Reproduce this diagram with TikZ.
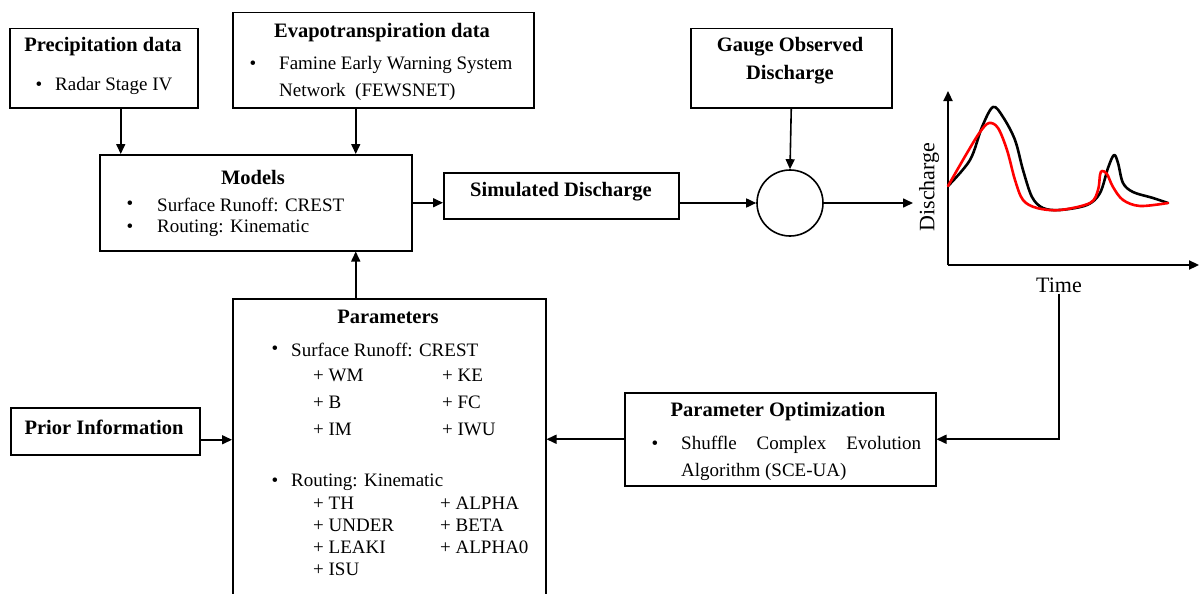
\documentclass[tikz,border=0pt]{standalone}
\usepackage{fontspec}
\setmainfont{Liberation Serif}
\usetikzlibrary{arrows.meta}
\begin{document}
\begin{tikzpicture}[x=1pt,y=-1pt,
  box/.style={draw, line width=1.5pt, inner sep=0pt, anchor=north west},
  arr/.style={line width=1.6pt, -{Triangle[length=10pt,width=9pt]}},
  txt/.style={inner sep=0pt, font=\fontsize{19}{23}\selectfont},
  lft/.style={txt, anchor=west},
  hd/.style={txt, font=\fontsize{20.5}{24}\selectfont\bfseries},
  axlbl/.style={inner sep=0pt, font=\fontsize{22}{26}\selectfont},
  curve/.style={line width=2.6pt, line join=round, line cap=round}
]
\useasboundingbox (0,0) rectangle (1200,594);
\clip (0,0) rectangle (1200,594);

% ---------- boxes ----------
\node[box, minimum width=188pt, minimum height=79pt] (precip) at (9,28) {};
\node[box, minimum width=301pt, minimum height=95pt] (evapo) at (232,12) {};
\node[box, minimum width=312pt, minimum height=96pt] (models) at (99,154) {};
\node[box, minimum width=235pt, minimum height=46pt] (sim) at (443,172) {};
\node[box, minimum width=201pt, minimum height=79pt] (gauge) at (690,28) {};
\node[draw, line width=1.6pt, circle, minimum size=66pt, inner sep=0pt] (circ) at (790,203) {};
\node[box, minimum width=313pt, minimum height=320pt] (params) at (232,298) {};
\node[box, minimum width=189pt, minimum height=47pt] (prior) at (10,407) {};
\node[box, minimum width=311pt, minimum height=93pt] (opt) at (624,392) {};

% ---------- precipitation ----------
\node[hd] (precipT) at (103,47) {Precipitation data};
\node[txt] (precipB) at (39,86) {•};
\node[lft] (precipL) at (55,86) {Radar Stage IV};

% ---------- evapotranspiration ----------
\node[hd] (evapoT) at (382,33) {Evapotranspiration data};
\node[txt] (evapoB) at (253,65) {•};
\node[lft] (evapoL1) at (279,65) {Famine Early Warning System};
\node[lft] (evapoL2) at (279,92) {Network\ \ (FEWSNET)};

% ---------- models ----------
\node[hd] (modelsT) at (253,177) {Models};
\node[txt] (modelsB1) at (130,205) {•};
\node[lft] (modelsL1) at (157,205) {Surface Runoff: CREST};
\node[txt] (modelsB2) at (130,228) {•};
\node[lft] (modelsL2) at (157,228) {Routing: Kinematic};

% ---------- simulated / observed ----------
\node[hd] (simT) at (561,192) {Simulated Discharge};
\node[hd] (gaugeT1) at (790,47) {Gauge Observed};
\node[hd] (gaugeT2) at (790,75) {Discharge};

% ---------- parameters ----------
\node[hd] (paramsT) at (388,317) {Parameters};
\node[txt] (paramsB1) at (275,350) {•};
\node[lft] (paramsL1) at (291,350) {Surface Runoff: CREST};
\node[lft] (pWM) at (313,375) {+ WM};
\node[lft] (pB) at (313,402) {+ B};
\node[lft] (pIM) at (313,429) {+ IM};
\node[lft] (pKE) at (442,375) {+ KE};
\node[lft] (pFC) at (442,402) {+ FC};
\node[lft] (pIWU) at (442,429) {+ IWU};
\node[txt] (paramsB2) at (275,482) {•};
\node[lft] (paramsL2) at (291,482) {Routing: Kinematic};
\node[lft] (pTH) at (313,503) {+ TH};
\node[lft] (pUNDER) at (313,525) {+ UNDER};
\node[lft] (pLEAKI) at (313,547) {+ LEAKI};
\node[lft] (pISU) at (313,569) {+ ISU};
\node[lft] (pALPHA) at (440,503) {+ ALPHA};
\node[lft] (pBETA) at (440,525) {+ BETA};
\node[lft] (pALPHA0) at (440,547) {+ ALPHA0};

% ---------- prior / optimization ----------
\node[hd] (priorT) at (104,427) {Prior Information};
\node[hd] (optT) at (778,412) {Parameter Optimization};
\node[txt] (optB) at (655,445) {•};
\node[lft] (optL1) at (681,445) {\makebox[240pt][s]{Shuffle Complex Evolution}};
\node[lft] (optL2) at (681,472) {Algorithm (SCE-UA)};

% ---------- hydrograph ----------
\coordinate (orig) at (948,265);
\coordinate (ytip) at (948,91);
\coordinate (xtip) at (1199,265);
\draw[arr, line width=2.2pt] (orig) -- (ytip);
\draw[arr, line width=2.2pt] (orig) -- (xtip);
\node[axlbl, rotate=90] (ylbl) at (929,187) {Discharge};
\node[axlbl] (timelbl) at (1059,285) {Time};
\coordinate (plotin) at (913,203);

\draw[curve, black] plot[smooth, tension=0.55] coordinates {
  (948,186) (970,160) (982,127) (993,107) (1003,117) (1015,140) (1023,170)
  (1032,197) (1043,208) (1060,210) (1087,205) (1100,193) (1108,168)
  (1114,155) (1118,163) (1123,183) (1133,192) (1153,198) (1168,203)};
\draw[curve, red] plot[smooth, tension=0.55] coordinates {
  (948,186) (967,153) (980,132) (989,123) (998,128) (1007,150) (1015,180)
  (1023,200) (1037,208) (1060,210) (1090,203) (1098,190) (1100,175)
  (1102,171) (1107,174) (1113,187) (1123,200) (1140,206) (1168,203)};

% ---------- connectors ----------
\draw[arr] ([xshift=17pt]precip.south) -- ([xshift=17pt]precip.south |- models.north);
\draw[arr] ([xshift=-27.5pt]evapo.south) -- ([xshift=-27.5pt]evapo.south |- models.north);
\draw[arr] ([xshift=-33.5pt]params.north) -- ([xshift=-33.5pt]params.north |- models.south);
\draw[arr] (models.east) -- (models.east -| sim.west);
\draw[arr] (sim.east |- circ.west) -- (circ.west);
\draw[arr] (gauge.south) -- (circ.north);
\draw[arr] (circ.east) -- (plotin);
\draw[arr] ([yshift=-1pt]timelbl.south) |- (opt.east);
\draw[arr] (opt.west) -- (opt.west -| params.east);
\draw[arr] ([yshift=-8.5pt]prior.east) -- ([yshift=-8.5pt]prior.east -| params.west);
\end{tikzpicture}
\end{document}
